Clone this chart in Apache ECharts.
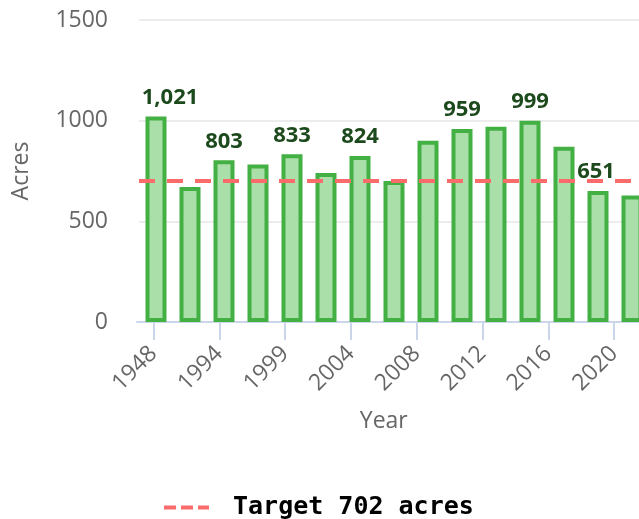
<!DOCTYPE html>
<html>
<head>
<meta charset="utf-8">
<script src="https://cdn.jsdelivr.net/npm/echarts@6/dist/echarts.min.js"></script>
<style>
  html, body { margin: 0; padding: 0; background: #fff; }
  #acres_chart { width: 639px; height: 519px; }
</style>
</head>
<body>
<div id="acres_chart"></div>
<script>
// Data
var years = ["1948", "1987", "1994", "1997", "1999", "2002", "2004", "2006",
             "2008", "2010", "2012", "2014", "2016", "2018", "2020"];
var acres = [1021, 670, 803, 782, 833, 740, 824, 700, 900, 959, 970, 999, 870, 651, 628];
var labelledBars = [0, 2, 4, 6, 9, 11, 13]; // only these bars carry a value label
var targetValue = 702;
var targetName = "Target 702 acres";
var yTicks = [0, 500, 1000, 1500];

var el = document.getElementById("acres_chart");
var chart = echarts.init(el);

var barData = acres.map(function (v, i) {
  var item = { value: v, label: { show: labelledBars.indexOf(i) !== -1 } };
  // first label sits a little to the right in the original
  if (i === 0) item.label.offset = [14, 0];
  if (i === 13) item.label.offset = [-2, 0];
  return item;
});

var axisGray = "#666";
var axisBlue = "#ccd6eb";

var option = {
  animation: false,
  textStyle: { fontFamily: "Open Sans" },
  grid: [
    // bars: plot runs past the right edge, as in the original
    { left: 139, top: 20, width: 510, height: 302, outerBoundsMode: "none" },
    // year ticks/labels are spaced a bit tighter than the bars in the original
    { left: 137, top: 20, width: 493.5, height: 302, outerBoundsMode: "none" }
  ],
  legend: {
    top: 490,
    left: 157,
    itemWidth: 45,
    itemHeight: 14,
    itemGap: 20,
    data: [targetName],
    lineStyle: { type: [12, 5], width: 4 },
    itemStyle: { opacity: 0 }, // hide the circle marker, keep the dashed line
    textStyle: {
      fontFamily: "DejaVu Sans Mono",
      fontWeight: "bold",
      fontSize: 25,
      color: "#000",
      padding: [0, 0, 0, 19]
    }
  },
  xAxis: [
    {
      type: "category",
      gridIndex: 0,
      data: years,
      axisLine: { lineStyle: { color: axisBlue, width: 2 } },
      axisTick: { show: false },
      axisLabel: { show: false }
    },
    {
      type: "category",
      gridIndex: 1,
      data: years,
      name: "Year",
      nameLocation: "middle",
      nameGap: 88,
      nameTextStyle: { fontSize: 23, color: axisGray },
      axisLine: { show: true, lineStyle: { color: axisBlue, width: 2 } },
      axisTick: { show: true, alignWithLabel: true, interval: 1, length: 18, lineStyle: { color: axisBlue, width: 2 } },
      axisLabel: { interval: 1, rotate: 45, fontSize: 23, color: axisGray, margin: 28 }
    }
  ],
  yAxis: [
    {
      type: "value",
      gridIndex: 0,
      min: yTicks[0],
      max: yTicks[yTicks.length - 1],
      interval: 500,
      name: "Acres",
      nameLocation: "middle",
      nameGap: 106,
      nameTextStyle: { fontSize: 23, color: axisGray },
      axisLabel: {
        fontSize: 23,
        color: axisGray,
        margin: 31,
        formatter: function (v) { return String(v); }
      },
      splitLine: { lineStyle: { color: "#e6e6e6", width: 1.5 } }
    },
    {
      type: "value",
      gridIndex: 1,
      min: yTicks[0],
      max: yTicks[yTicks.length - 1],
      axisLine: { show: false },
      axisTick: { show: false },
      axisLabel: { show: false },
      splitLine: { show: false }
    }
  ],
  series: [
    {
      name: "Acres",
      type: "bar",
      xAxisIndex: 0,
      yAxisIndex: 0,
      z: 3,
      barWidth: 21,
      data: barData,
      itemStyle: { color: "#abdfaa", borderColor: "#43b043", borderWidth: 4 },
      label: {
        position: "top",
        distance: 8,
        fontSize: 22,
        fontWeight: "bold",
        color: "#1d4a1d",
        formatter: function (p) { return p.value.toLocaleString("en-US"); }
      }
    },
    {
      name: targetName,
      type: "line",
      xAxisIndex: 0,
      yAxisIndex: 0,
      z: 1,
      data: [],
      symbol: "none",
      itemStyle: { color: "#fa6b6b" },
      lineStyle: { color: "#fa6b6b", width: 4, type: [16, 12] },
      markLine: {
        silent: true,
        symbol: "none",
        label: { show: false },
        lineStyle: { color: "#fa6b6b", width: 4, type: [16, 12] },
        data: [{ yAxis: targetValue }]
      }
    }
  ]
};

chart.setOption(option);
</script>
</body>
</html>
